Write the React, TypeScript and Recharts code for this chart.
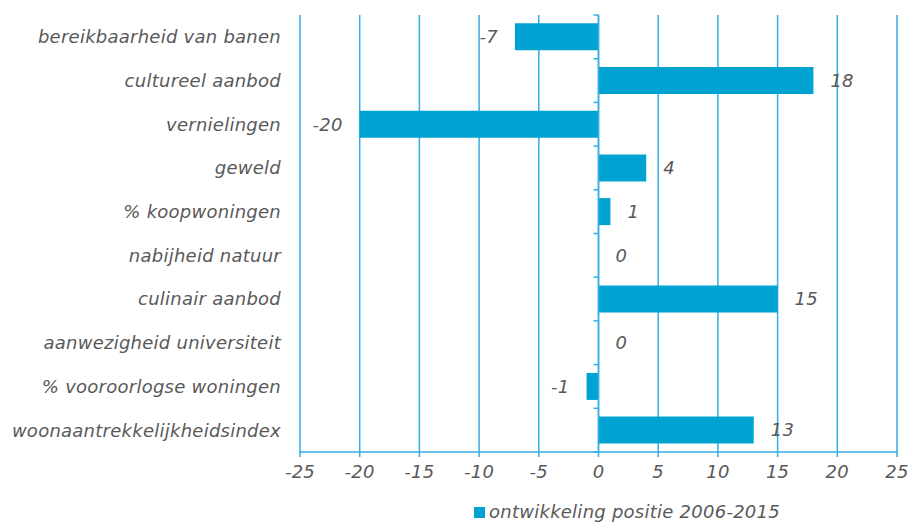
import { Bar, BarChart, CartesianGrid, LabelList, Legend, ReferenceLine, XAxis, YAxis } from "recharts";

const categories = [
  "bereikbaarheid van banen",
  "cultureel aanbod",
  "vernielingen",
  "geweld",
  "% koopwoningen",
  "nabijheid natuur",
  "culinair aanbod",
  "aanwezigheid universiteit",
  "% vooroorlogse woningen",
  "woonaantrekkelijkheidsindex",
];
const values = [-7, 18, -20, 4, 1, 0, 15, 0, -1, 13];
const xTicks = [-25, -20, -15, -10, -5, 0, 5, 10, 15, 20, 25];
const seriesName = "ontwikkeling positie 2006-2015";

const data = categories.map((name, i) => ({ name, value: values[i] }));

const BLUE = "#00A2D2";
const LINE = "#35AEE0";
const TEXT = "#595959";
const FONT = "'DejaVu Sans', Verdana, sans-serif";
const textStyle = { fontSize: 18, fontStyle: "italic", fontFamily: FONT, letterSpacing: 0.25 };

// zero line with small ticks between the categories
function ZeroAxis(props: any) {
  const { x1, y1, y2 } = props;
  const n = categories.length;
  const step = (y2 - y1) / n;
  const marks = [];
  for (let i = 0; i <= n; i++) {
    const y = y1 + step * i;
    marks.push(<line key={i} x1={x1 - 5} x2={x1} y1={y} y2={y} stroke={LINE} strokeWidth={1.5} />);
  }
  return (
    <g>
      <line x1={x1} x2={x1} y1={y1} y2={y2} stroke={LINE} strokeWidth={1.5} />
      {marks}
    </g>
  );
}

function LegendBox() {
  return (
    <div style={{ display: "flex", alignItems: "center", ...textStyle, lineHeight: "20px", color: TEXT, whiteSpace: "nowrap" }}>
      <span style={{ display: "inline-block", width: 11, height: 11, background: BLUE, marginRight: 4 }} />
      <span>{seriesName}</span>
    </div>
  );
}

export default function App() {
  return (
    <div style={{ position: "absolute", left: 0, top: 0, background: "#fff" }}>
      <BarChart
        width={911}
        height={524}
        data={data}
        layout="vertical"
        barCategoryGap="19%"
        margin={{ top: 15, right: 14, left: 0, bottom: 42 }}
      >
        <CartesianGrid horizontal={false} stroke={LINE} strokeWidth={1.5} verticalValues={xTicks} />
        <XAxis
          type="number"
          domain={[-25, 25]}
          ticks={xTicks}
          interval={0}
          height={30}
          stroke={LINE}
          strokeWidth={1.5}
          tickSize={5}
          tickMargin={8}
          tick={{ fill: TEXT, ...textStyle }}
        />
        <YAxis
          type="category"
          dataKey="name"
          width={300}
          axisLine={false}
          tickLine={false}
          tickSize={6}
          tickMargin={13}
          interval={0}
          tick={{ fill: TEXT, ...textStyle }}
        />
        <ReferenceLine x={0} shape={ZeroAxis} />
        <Bar dataKey="value" name={seriesName} fill={BLUE} minPointSize={0.01} isAnimationActive={false}>
          <LabelList dataKey="value" position="right" offset={17} fill={TEXT} style={textStyle} />
        </Bar>
        <Legend
          layout="vertical"
          align="center"
          verticalAlign="middle"
          content={LegendBox}
          wrapperStyle={{ top: 502, left: 474, width: "auto", height: "auto" }}
        />
      </BarChart>
    </div>
  );
}
